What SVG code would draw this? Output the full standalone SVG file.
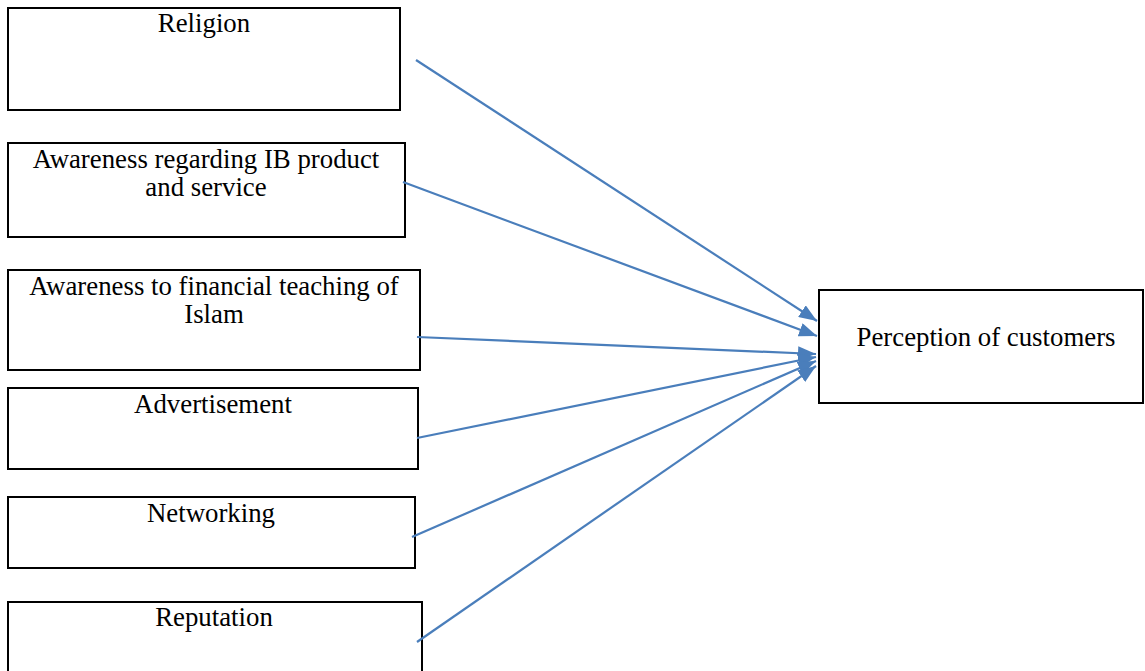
<svg xmlns="http://www.w3.org/2000/svg" width="1145" height="671" viewBox="0 0 1145 671">
<style>
.box{fill:#fff;stroke:#000;stroke-width:2}
.lbl{font-family:"Liberation Serif","Times New Roman",serif;font-size:26.8px;fill:#000;text-anchor:middle}
.edge{stroke:#4a7ebb;stroke-width:2.2;fill:none;marker-end:url(#ah)}
</style>
<defs>
<marker id="ah" markerUnits="userSpaceOnUse" markerWidth="20" markerHeight="14" refX="18" refY="7" orient="auto">
<path d="M0,0 L18,7 L0,14 z" fill="#4a7ebb"/>
</marker>
</defs>
<rect width="1145" height="671" fill="#fff"/>
<g id="religion"><rect class="box" x="8" y="8" width="392" height="102"/><text class="lbl" x="204" y="32">Religion</text></g>
<g id="awareness-ib"><rect class="box" x="8" y="143" width="397" height="94"/><text class="lbl" x="206" y="168">Awareness regarding IB product</text><text class="lbl" x="206" y="196">and service</text></g>
<g id="awareness-fin"><rect class="box" x="8" y="270" width="412" height="100"/><text class="lbl" x="214" y="295">Awareness to financial teaching of</text><text class="lbl" x="214" y="323">Islam</text></g>
<g id="advertisement"><rect class="box" x="8" y="388" width="410" height="81"/><text class="lbl" x="213" y="413">Advertisement</text></g>
<g id="networking"><rect class="box" x="8" y="497" width="407" height="71"/><text class="lbl" x="211" y="522">Networking</text></g>
<g id="reputation"><rect class="box" x="8" y="602" width="414" height="80"/><text class="lbl" x="214" y="626">Reputation</text></g>
<g id="perception"><rect class="box" x="819" y="290" width="324" height="113"/><text class="lbl" x="986" y="346">Perception of customers</text></g>
<g id="connectors">
<line class="edge" x1="416" y1="60" x2="817" y2="321"/>
<line class="edge" x1="403" y1="182" x2="817" y2="336"/>
<line class="edge" x1="417" y1="337" x2="816" y2="354"/>
<line class="edge" x1="417" y1="438" x2="816" y2="357"/>
<line class="edge" x1="412" y1="537" x2="816" y2="361"/>
<line class="edge" x1="417" y1="642" x2="816" y2="366"/>
</g>
</svg>
